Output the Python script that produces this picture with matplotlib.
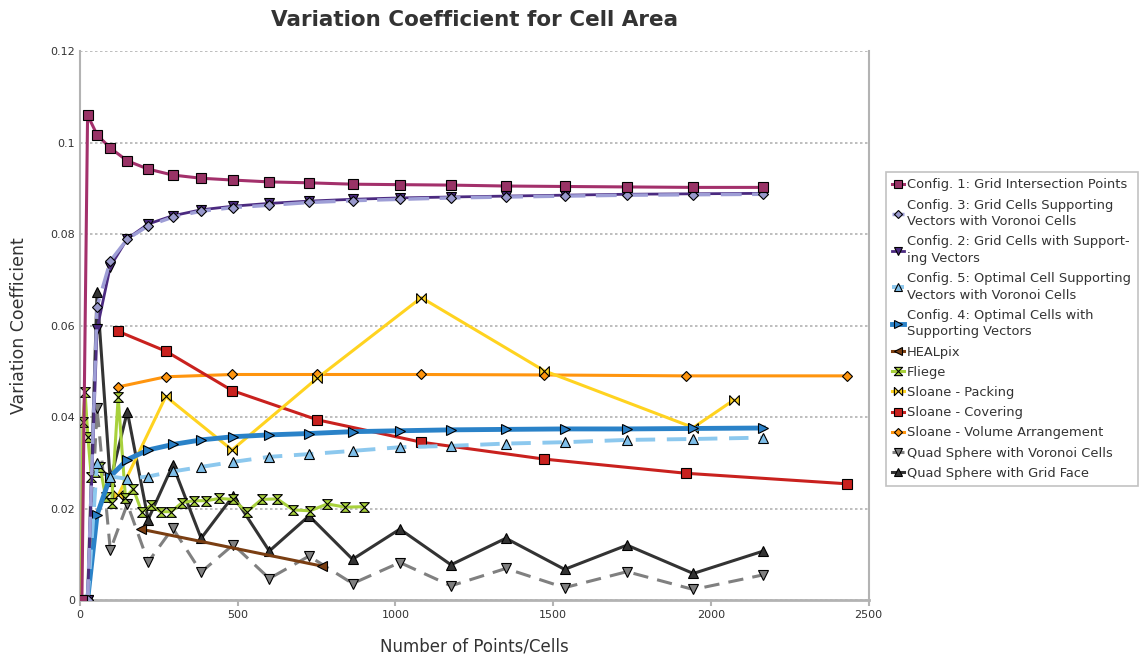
import numpy as np
import matplotlib
matplotlib.use("Agg")
from matplotlib import pyplot as plt

#======================Data==========================

# grid based counts (6 n^2)
grid_n = [24, 54, 96, 150, 216, 294, 384, 486, 600, 726, 864, 1014, 1176, 1350, 1536, 1734, 1944, 2166]

config1_x = [6] + grid_n
config1_y = [0, 0.1060, 0.1017, 0.0988, 0.0960, 0.0942, 0.0929, 0.0922, 0.0918, 0.0914,
             0.0912, 0.0909, 0.0908, 0.0907, 0.0905, 0.0904, 0.0903, 0.0902, 0.0902]

config3_y = [0, 0.0641, 0.0741, 0.0789, 0.0818, 0.0837, 0.0850, 0.0858, 0.0863, 0.0869,
             0.0873, 0.0876, 0.0879, 0.0881, 0.0883, 0.0885, 0.0886, 0.0887]
config2_y = [0, 0.0592, 0.0729, 0.0790, 0.0822, 0.0840, 0.0853, 0.0861, 0.0867, 0.0872,
             0.0876, 0.0879, 0.0881, 0.0883, 0.0885, 0.0887, 0.0888, 0.0889]
config5_y = [0, 0.0300, 0.0270, 0.0265, 0.0270, 0.0281, 0.0291, 0.0302, 0.0313, 0.0319,
             0.0326, 0.0334, 0.0337, 0.0342, 0.0345, 0.0350, 0.0352, 0.0355]
config4_y = [0, 0.0186, 0.0270, 0.0307, 0.0328, 0.0340, 0.0350, 0.0357, 0.0361, 0.0364,
             0.0368, 0.0370, 0.0372, 0.0373, 0.0374, 0.0374, 0.0375, 0.0376]

healpix_x = [192, 768]
healpix_y = [0.0155, 0.0074]

fliege_x = [4, 9, 16, 25, 36, 49, 64, 81, 100, 121, 144, 169, 196, 225, 256, 289, 324,
            361, 400, 441, 484, 529, 576, 625, 676, 729, 784, 841, 900]
fliege_y = [0, 0.0390, 0.0455, 0.0356, 0.0268, 0.0280, 0.0290, 0.0226, 0.0211, 0.0443,
            0.0224, 0.0243, 0.0192, 0.0207, 0.0193, 0.0193, 0.0213, 0.0217, 0.0217,
            0.0222, 0.0220, 0.0193, 0.0220, 0.0221, 0.0197, 0.0195, 0.0210, 0.0203, 0.0204]

packing_x = [122, 272, 482, 752, 1082, 1472, 1944, 2072]
packing_y = [0.0230, 0.0445, 0.0328, 0.0485, 0.0661, 0.0501, 0.0377, 0.0437]

sloane_x = [122, 272, 482, 752, 1082, 1472, 1922, 2432]
covering_y = [0.0587, 0.0544, 0.0458, 0.0394, 0.0345, 0.0308, 0.0277, 0.0254]
volume_y = [0.0466, 0.0488, 0.0493, 0.0493, 0.0493, 0.0492, 0.0490, 0.0490]

quad_vor_y = [0, 0.0419, 0.0109, 0.0210, 0.0083, 0.0157, 0.0061, 0.0121, 0.0047, 0.0096,
              0.0036, 0.0082, 0.0031, 0.0069, 0.0027, 0.0062, 0.0023, 0.0055]
quad_grid_y = [0, 0.0674, 0.0260, 0.0412, 0.0176, 0.0295, 0.0135, 0.0228, 0.0107, 0.0184,
               0.0089, 0.0155, 0.0077, 0.0135, 0.0067, 0.0120, 0.0058, 0.0107]

#======================Markers==========================

hourglass = [(-1, 1), (1, 1), (-1, -1), (1, -1), (-1, 1)]
bowtie = [(-1, 1), (1, -1), (1, 1), (-1, -1), (-1, 1)]

plt.rcParams['font.family'] = 'DejaVu Sans'

fig = plt.figure(figsize=(11.43, 6.59), dpi=100)
ax = fig.add_axes([0.070, 0.0895, 0.690, 0.833])

mk = dict(markeredgecolor='black', markeredgewidth=0.8)

# series: (label, x, y, color, marker, size, linestyle, linewidth, marker face)
series = [
    ("Config. 1: Grid Intersection Points", config1_x, config1_y, '#a3306b', 's', 7, '-', 2.2, '#993366'),
    ("Config. 3: Grid Cells Supporting\nVectors with Voronoi Cells", grid_n, config3_y, '#9e9ed6', 'D', 5, (0, (6, 3)), 2.5, '#9999cc'),
    ("Config. 2: Grid Cells with Support-\ning Vectors", grid_n, config2_y, '#4b2a80', 'v', 7, '-', 2.0, '#4b2a80'),
    ("Config. 5: Optimal Cell Supporting\nVectors with Voronoi Cells", grid_n, config5_y, '#8cc8ee', '^', 7, (0, (5, 3)), 2.8, '#7fbfea'),
    ("Config. 4: Optimal Cells with\nSupporting Vectors", grid_n, config4_y, '#2a82c8', '>', 7, '-', 3.5, '#2a7fc6'),
    ("HEALpix", healpix_x, healpix_y, '#7a3e12', '<', 7, '-', 2.2, '#7a3e12'),
    ("Fliege", fliege_x, fliege_y, '#a8d13c', hourglass, 7, '-', 2.2, '#a8d13c'),
    ("Sloane - Packing", packing_x, packing_y, '#ffd320', bowtie, 7, '-', 2.2, '#ffd320'),
    ("Sloane - Covering", sloane_x, covering_y, '#c9211e', 's', 7, '-', 2.2, '#c9211e'),
    ("Sloane - Volume Arrangement", sloane_x, volume_y, '#ff950e', 'D', 5, '-', 2.2, '#ff950e'),
    ("Quad Sphere with Voronoi Cells", grid_n, quad_vor_y, '#808080', 'v', 7, (0, (5, 3)), 2.2, '#808080'),
    ("Quad Sphere with Grid Face", grid_n, quad_grid_y, '#333333', '^', 7, '-', 2.2, '#333333'),
]

for i, (label, xs, ys, col, m, ms, ls, lw, fc) in enumerate(series):
    ax.plot(xs, ys, color=col, linestyle=ls, linewidth=lw, marker=m, markersize=ms,
            markerfacecolor=fc, label=label, zorder=20 - i, **mk)

#======================Axes styling==========================

ax.set_xlim(0, 2500)
ax.set_ylim(0, 0.12)
ax.set_xticks([0, 500, 1000, 1500, 2000, 2500])
ax.set_yticks([0, 0.02, 0.04, 0.06, 0.08, 0.1, 0.12])
ax.set_yticklabels(['0', '0.02', '0.04', '0.06', '0.08', '0.1', '0.12'])
ax.tick_params(axis='both', labelsize=8, colors='#333333', length=4)
ax.tick_params(axis='y', length=0)
ax.tick_params(axis='x', color='#b3b3b3', width=1.5)
ax.yaxis.grid(True, linestyle=(0, (1.5, 1.5)), color='#b3b3b3', linewidth=1.2)
ax.set_axisbelow(True)
for s in ax.spines.values():
    s.set_color('#b3b3b3')
    s.set_linewidth(1.5)
ax.spines['bottom'].set_linewidth(2)
ax.spines['top'].set_visible(False)

ax.set_title("Variation Coefficient for Cell Area", fontsize=15.5, fontweight='bold',
             color='#333333', pad=18)
ax.set_xlabel("Number of Points/Cells", fontsize=12, color='#333333', labelpad=12)
ax.set_ylabel("Variation Coefficient", fontsize=12.5, color='#333333', labelpad=16)

leg = ax.legend(loc='upper left', bbox_to_anchor=(1.0215, 0.78), fontsize=9.4,
                frameon=True, fancybox=False, edgecolor='#b3b3b3', handlelength=0.9,
                handletextpad=0.25, labelspacing=0.55, borderpad=0.5, borderaxespad=0,
                markerscale=0.85)
leg.get_frame().set_linewidth(1.2)
for t in leg.get_texts():
    t.set_color('#333333')
    t.set_linespacing(1.36)

fig.savefig("out.png", dpi=100)
